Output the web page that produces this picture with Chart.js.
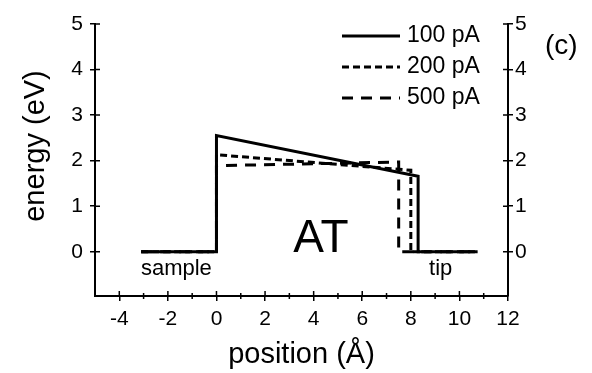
<!DOCTYPE html>
<html>
<head>
<meta charset="utf-8">
<title>energy vs position (AT)</title>
<script src="https://cdn.jsdelivr.net/npm/chart.js@4/dist/chart.umd.min.js"></script>
<style>
  html, body { margin: 0; padding: 0; background: #fff; }
  #wrap { width: 592px; height: 373px; }
</style>
</head>
<body>
<div id="wrap"><canvas id="chart"></canvas></div>
<script>
// barrier profiles (position in Å, energy in eV)
const pos100 = [-3.1, 0, 0, 8.3, 8.3, 10.75];
const energy100 = [0, 0, 2.55, 1.66, 0, 0];
const pos200 = [-3.1, 0, 0, 8.0, 8.0, 10.75];
const energy200 = [0, 0, 2.13, 1.79, 0, 0];
const pos500 = [-3.1, 0, 0, 7.5, 7.5, 10.75];
const energy500 = [0, 0, 1.89, 1.97, 0, 0];

const seriesLabels = ['100 pA', '200 pA', '500 pA'];
const xTicks = [-4, -2, 0, 2, 4, 6, 8, 10, 12];
const xMinorTicks = [-3, -1, 1, 3, 5, 7, 9, 11];
const yTicks = [0, 1, 2, 3, 4, 5];

const FONT = "'Liberation Sans', Arial, Helvetica, sans-serif";

const toPoints = (xs, ys) => xs.map((v, i) => ({ x: v, y: ys[i] }));

// --- extra drawing: inner tick halves, minor ticks, legend, labels ---
const decorations = {
    id: 'decorations',
    afterDraw(chart) {
        const { ctx, scales: { x, y } } = chart;
        ctx.save();
        ctx.strokeStyle = '#000';
        ctx.lineWidth = 1.5;
        ctx.setLineDash([]);
        ctx.beginPath();
        yTicks.forEach(v => {
            const py = y.getPixelForValue(v);
            ctx.moveTo(x.left, py); ctx.lineTo(x.left + 5, py);
            ctx.moveTo(x.right, py); ctx.lineTo(x.right - 5, py);
        });
        xTicks.forEach(v => {
            const px = x.getPixelForValue(v);
            ctx.moveTo(px, y.bottom); ctx.lineTo(px, y.bottom - 5);
        });
        xMinorTicks.forEach(v => {
            const px = x.getPixelForValue(v);
            ctx.moveTo(px, y.bottom - 3); ctx.lineTo(px, y.bottom + 3);
        });
        ctx.stroke();

        // legend, top right
        ctx.fillStyle = '#000';
        ctx.textBaseline = 'middle';
        ctx.textAlign = 'left';
        ctx.font = `23px ${FONT}`;
        chart.data.datasets.forEach((ds, i) => {
            const ly = 36 + i * 31;
            ctx.beginPath();
            ctx.lineWidth = ds.borderWidth;
            ctx.setLineDash(ds.borderDash || []);
            ctx.moveTo(342, ly);
            ctx.lineTo(400, ly);
            ctx.stroke();
            ctx.fillText(ds.label, 407, ly);
        });
        ctx.setLineDash([]);

        // annotations
        ctx.textAlign = 'center';
        ctx.textBaseline = 'alphabetic';
        ctx.font = `22px ${FONT}`;
        ctx.fillText('sample', x.getPixelForValue(-1.65), y.getPixelForValue(-0.5));
        ctx.fillText('tip', x.getPixelForValue(9.23), y.getPixelForValue(-0.5));
        ctx.font = `46px ${FONT}`;
        ctx.fillText('AT', x.getPixelForValue(4.3), y.getPixelForValue(0));
        ctx.font = `28px ${FONT}`;
        ctx.textBaseline = 'middle';
        ctx.fillText('(c)', x.getPixelForValue(14.19), y.getPixelForValue(4.5));

        // y axis title
        ctx.font = `29px ${FONT}`;
        ctx.translate(36, 146);
        ctx.rotate(-Math.PI / 2);
        ctx.fillText('energy (eV)', 0, 0);
        ctx.restore();
    }
};

const yAxis = (position, width, pad) => ({
    type: 'linear',
    position: position,
    min: -0.97,
    max: 5,
    afterBuildTicks: s => { s.ticks = yTicks.map(v => ({ value: v })); },
    afterFit: s => { s.width = width; },
    grid: { display: true, drawOnChartArea: false, drawTicks: true, tickLength: 5, color: '#000', lineWidth: 1.5 },
    border: { display: true, color: '#000', width: 2 },
    ticks: { font: { family: FONT, size: 21 }, color: '#000', padding: pad }
});

const ctx = document.getElementById('chart').getContext('2d');
const myChart = new Chart(ctx, {
    type: 'line',
    data: {
        datasets: [
            { label: seriesLabels[0], data: toPoints(pos100, energy100), borderColor: '#000', borderWidth: 3, borderDash: [] },
            { label: seriesLabels[1], data: toPoints(pos200, energy200), borderColor: '#000', borderWidth: 3, borderDash: [7, 4] },
            { label: seriesLabels[2], data: toPoints(pos500, energy500), borderColor: '#000', borderWidth: 3, borderDash: [11, 8] }
        ]
    },
    options: {
        responsive: true,
        maintainAspectRatio: false,
        animation: false,
        layout: { padding: { top: 24, left: 0, right: 0, bottom: 0 } },
        elements: {
            point: { radius: 0 },
            line: { tension: 0, fill: false, borderCapStyle: 'butt', borderJoinStyle: 'miter' }
        },
        plugins: { legend: { display: false }, tooltip: { enabled: false } },
        scales: {
            x: {
                type: 'linear',
                min: -5,
                max: 12,
                afterBuildTicks: s => { s.ticks = xTicks.map(v => ({ value: v })); },
                afterFit: s => { s.height = 77; },
                grid: { display: true, drawOnChartArea: false, drawTicks: true, tickLength: 5, color: '#000', lineWidth: 1.5 },
                border: { display: true, color: '#000', width: 2 },
                ticks: { font: { family: FONT, size: 21 }, color: '#000', padding: 6, maxRotation: 0, autoSkip: false },
                title: { display: true, text: 'position (Å)', color: '#000', font: { family: FONT, size: 29 }, padding: { top: 0, bottom: 1 } }
            },
            y: yAxis('left', 95, 7),
            y2: yAxis('right', 84, 2)
        }
    },
    plugins: [decorations]
});
</script>
</body>
</html>
